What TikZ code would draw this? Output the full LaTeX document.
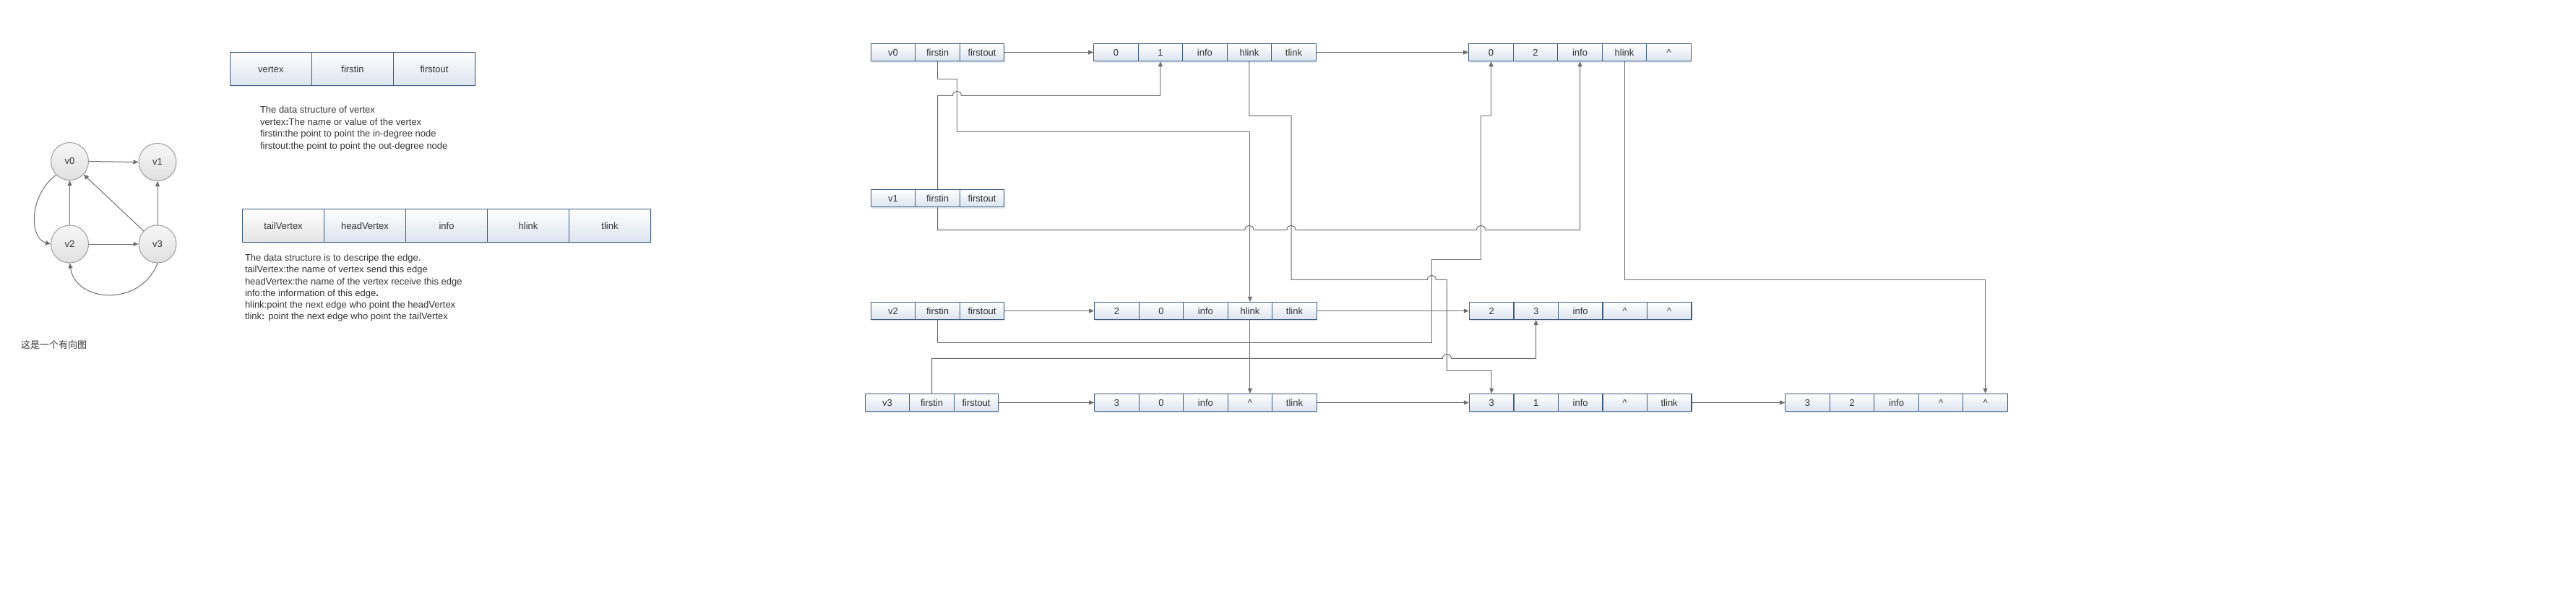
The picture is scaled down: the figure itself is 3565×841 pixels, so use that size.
\documentclass[tikz,border=0pt]{standalone}
\usepackage{fontspec}
\setmainfont{Liberation Sans}
\newfontfamily\cjkfont{Noto Sans CJK SC}
\usetikzlibrary{arrows.meta,shadows}
\definecolor{cellborder}{HTML}{3E5A7E}
\definecolor{cellbot}{HTML}{DCE4EF}
\definecolor{graybot}{HTML}{E4E4E4}
\definecolor{linegray}{HTML}{6E6E6E}
\definecolor{txt}{HTML}{333333}
\definecolor{circborder}{HTML}{9C9C9C}
\definecolor{circtop}{HTML}{F7F7F7}
\definecolor{circbot}{HTML}{E0E0E0}
\definecolor{shadowc}{HTML}{9FB2CC}
\tikzset{
  cell/.style={draw=cellborder, line width=1.2pt, top color=white, bottom color=cellbot,
    minimum height=24pt, minimum width=61.5pt, inner sep=0pt,
    font=\fontsize{13}{13}\selectfont, text=txt, text height=11.5pt, text depth=2pt,
    drop shadow={shadow xshift=1pt, shadow yshift=-2pt, opacity=0.25, fill=shadowc}},
  bigcell/.style={cell, minimum height=46pt, minimum width=113pt},
  graycell/.style={bigcell, bottom color=graybot},
  conn/.style={draw=linegray, line width=1pt},
  arr/.style={-{Triangle[length=7pt,width=6pt]}},
  gnode/.style={circle, draw=circborder, line width=1pt, top color=circtop, bottom color=circbot,
    minimum size=52pt, inner sep=0pt, font=\fontsize{13}{13}\selectfont, text=txt},
  garr/.style={draw=linegray, line width=1pt, -{Triangle[length=7pt,width=6pt]}},
  desc/.style={anchor=base west, inner sep=0pt, font=\fontsize{13}{13}\selectfont, text=txt},
}
\newcommand\recrow[4]{%
  \foreach \lbl [count=\i] in {#4} {%
    \node[cell] (#1-\i) at ({#2+(\i-0.5)*61.5},#3) {\lbl};
  }%
}
\newcommand\hop[2]{-- ({#1-6},#2) .. controls ({#1-6},{#2-8}) and ({#1+6},{#2-8}) .. ({#1+6},#2)}
\begin{document}
\begin{tikzpicture}[x=1pt,y=-1pt]
\fill[white] (0,0) rectangle (3565,841);
\useasboundingbox (0,0) rectangle (3565,841);

% ---- directed graph ----
\node[gnode] (g0) at (96.5,223.5) {v0};
\node[gnode] (g1) at (218,224.5) {v1};
\node[gnode] (g2) at (96.5,338) {v2};
\node[gnode] (g3) at (218,338) {v3};
\draw[garr] (g0.east) -- (g1.west);
\draw[garr] (g2) -- (g0);
\draw[garr] (g3) -- (g0);
\draw[garr] (g3) -- (g1);
\draw[garr] (g2) -- (g3);
\draw[garr] (g0.225) .. controls (40,270) and (40,330) .. (g2.west);
\draw[garr] (g3.south) .. controls (195,425) and (105,420) .. (g2.south);
\node[desc, font=\cjkfont\fontsize{13}{13}\selectfont] (cap) at (29,482.5) {这是一个有向图};

% ---- structure definitions ----
\foreach \lbl [count=\i] in {vertex,firstin,firstout}
  \node[bigcell] (vs-\i) at ({318.3+(\i-0.5)*113.1},95.3) {\lbl};
\node[graycell] (es-1) at ({335.5+0.5*113},312.3) {tailVertex};
\foreach \lbl [count=\i from 2] in {headVertex,info,hlink,tlink}
  \node[bigcell] (es-\i) at ({335.5+(\i-0.5)*113},312.3) {\lbl};

\node[desc] (t1) at (359.8,156.8) {The data structure of vertex};
\node[desc] (t2) at (359.8,173.3) {vertex\textbf{:}The name or value of the vertex};
\node[desc] (t3) at (359.8,189.8) {firstin:the point to point the in-degree node};
\node[desc] (t4) at (359.8,206.3) {firstout:the point to point the out-degree node};

\node[desc] (u1) at (338.8,361.5) {The data structure is to descripe the edge.};
\node[desc] (u2) at (338.8,377.8) {tailVertex:the name of vertex send this edge};
\node[desc] (u3) at (338.8,394.0) {headVertex:the name of the vertex receive this edge};
\node[desc] (u4) at (338.8,410.3) {info:the information of this edge\textbf{.}};
\node[desc] (u5) at (338.8,426.5) {hlink:point the next edge who point the headVertex};
\node[desc] (u6) at (338.8,442.8) {tlink\textbf{:} point the next edge who point the tailVertex};

% ---- orthogonal list ----
\recrow{v0}{1205.3}{72.5}{v0,firstin,firstout}
\recrow{v1}{1205.3}{274.7}{v1,firstin,firstout}
\recrow{v2}{1205.3}{430.5}{v2,firstin,firstout}
\recrow{v3}{1197.3}{557.5}{v3,firstin,firstout}
\recrow{e01}{1513.7}{72.5}{0,1,info,hlink,tlink}
\recrow{e02}{2032.8}{72.5}{0,2,info,hlink,\textasciicircum}
\recrow{e20}{1514.7}{430.5}{2,0,info,hlink,tlink}
\recrow{e23}{2033.4}{430.5}{2,3,info,\textasciicircum,\textasciicircum}
\recrow{e30}{1514.7}{557.5}{3,0,info,\textasciicircum,tlink}
\recrow{e31}{2033.4}{557.5}{3,1,info,\textasciicircum,tlink}
\recrow{e32}{2470.8}{557.5}{3,2,info,\textasciicircum,\textasciicircum}

% horizontal links
\draw[conn,arr] (v0-3.east) -- (e01-1.west);
\draw[conn,arr] (e01-5.east) -- (e02-1.west);
\draw[conn,arr] (v2-3.east) -- (e20-1.west);
\draw[conn,arr] (e20-5.east) -- (e23-1.west);
\draw[conn,arr] (v3-3.east) -- (e30-1.west);
\draw[conn,arr] (e30-5.east) -- (e31-1.west);
\draw[conn,arr] (e31-5.east) -- (e32-1.west);

% v0 firstin
\draw[conn,arr] (v0-2.south) -- ++(0,24) -| (1324.4,182.3) -| (e20-4.north);
% v1 firstin (up)
\draw[conn,arr] (v1-2.north) |- (1310,132.3) \hop{1324.4}{132.3} -| (e01-2.south);
% v1 firstin (down)
\draw[conn,arr] (v1-2.south) |- (1700,318.3) \hop{1728.95}{318.3} \hop{1787}{318.3} \hop{2049.5}{318.3} -| (e02-3.south);
% (0,1) hlink
\draw[conn,arr] (e01-4.south) |- (1787,160.3) |- (1960,387.3) \hop{1981.3}{387.3} -| (2002.3,513.3) -| (e31-1.north);
% v2 firstin
\draw[conn,arr] (v2-2.south) |- (1981.3,474.3) |- (2049.5,359.3) -- (2049.5,160.3) -| (e02-1.south);
% v3 firstin
\draw[conn,arr] (v3-2.north) |- (1980,496.3) \hop{2002.3}{496.3} -| (e23-2.south);
% (2,0) hlink
\draw[conn,arr] (e20-4.south) -- (e30-4.north);
% (0,2) hlink
\draw[conn,arr] (e02-4.south) |- (2747.55,387.3) -- (e32-5.north);
\end{tikzpicture}
\end{document}
